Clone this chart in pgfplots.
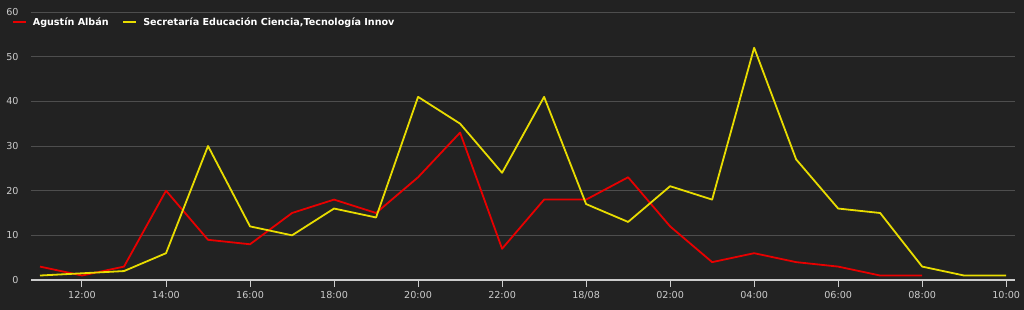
\documentclass[border=0pt]{standalone}
\usepackage{pgfplots}
\pgfplotsset{compat=1.18}
\usepackage{fontspec}
\setmainfont{DejaVu Sans}
\definecolor{bg}{HTML}{222222}
\definecolor{gridc}{HTML}{4E4E4E}
\definecolor{lbl}{HTML}{CCCCCC}
\definecolor{sred}{RGB}{232,0,0}
\definecolor{syel}{RGB}{232,220,0}
\begin{document}
\begin{tikzpicture}[x=1pt,y=1pt]
\fill[bg] (0,0) rectangle (1024,310);
\useasboundingbox (0,0) rectangle (1024,310);
\begin{axis}[
  at={(31pt,30pt)}, anchor=south west,
  scale only axis, width=984pt, height=268pt,
  xmin=-0.214, xmax=23.21, ymin=0, ymax=60,
  axis x line*=bottom, axis y line*=left,
  y axis line style={draw=none}, ytick style={draw=none},
  x axis line style={draw=lbl, line width=1.2pt},
  xtick style={draw=lbl, line width=1pt},
  xtick align=outside, major tick length=7pt,
  ytick={0,10,...,60},
  xtick={1,3,...,23},
  xticklabels={12:00,14:00,16:00,18:00,20:00,22:00,18/08,02:00,04:00,06:00,08:00,10:00},
  ymajorgrids, major grid style={draw=gridc, line width=0.9pt},
  tick label style={text=lbl, font=\fontsize{9.6}{11}\selectfont},
  /pgf/number format/assume math mode=true,
  yticklabel style={anchor=east, xshift=-9pt},
  xticklabel style={yshift=-1pt},
  legend columns=2,
  legend style={at={(-0.0193,0.963)}, anchor=west, fill=none, draw=none, text=white,
    font=\bfseries\fontsize{9.6}{11}\selectfont, inner sep=0pt,
    /tikz/every even column/.append style={column sep=12pt}},
  legend image code/.code={\draw[#1, line width=1.5pt] (0pt,0pt) -- (13pt,0pt); \path (17pt,0pt);},
  every axis plot/.append style={line width=1.8pt, line join=round},
]
\addplot[sred, mark=none] coordinates {
(0,3)(1,1)(2,3)(3,20)(4,9)(5,8)(6,15)(7,18)(8,15)(9,23)(10,33)(11,7)(12,18)(13,18)(14,23)(15,12)(16,4)(17,6)(18,4)(19,3)(20,1)(21,1)};
\addlegendentry{Agustín Albán}
\addplot[syel, mark=none] coordinates {
(0,1)(1,1.5)(2,2)(3,6)(4,30)(5,12)(6,10)(7,16)(8,14)(9,41)(10,35)(11,24)(12,41)(13,17)(14,13)(15,21)(16,18)(17,52)(18,27)(19,16)(20,15)(21,3)(22,1)(23,1)};
\addlegendentry{Secretaría Educación Ciencia,Tecnología Innov}
\end{axis}
\end{tikzpicture}
\end{document}
